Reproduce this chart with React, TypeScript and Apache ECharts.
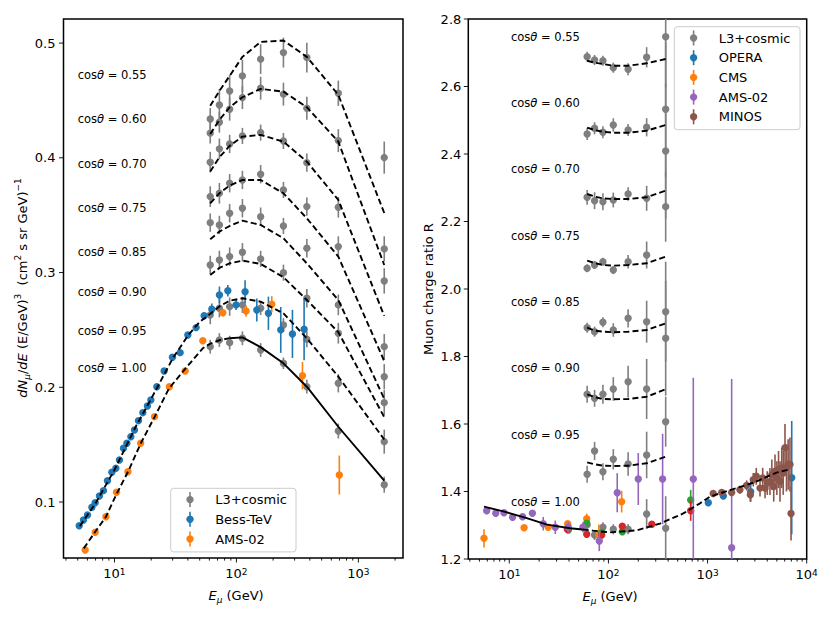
import React, { useEffect, useRef } from 'react';
import * as echarts from 'echarts';

const FONT = 'DejaVu Sans';
const GRAY = '#7f7f7f', BLUE = '#1f77b4', ORANGE = '#ff7f0e', GREEN = '#2ca02c', RED = '#d62728', PURPLE = '#9467bd', BROWN = '#8c564b';

// ---------- Left panel: flux ----------
const L3_E = [61, 72.5, 88, 112, 158, 243, 378, 685, 1630];
const COS_LABELS = ['0.55', '0.60', '0.70', '0.75', '0.85', '0.90', '0.95', '1.00'];
const flux055 = [0.4339, 0.4461, 0.4583, 0.4714, 0.4860, 0.4917, 0.4874, 0.4563, 0.4002];
const flux060 = [0.4215, 0.4310, 0.4424, 0.4525, 0.4607, 0.4555, 0.4432, 0.4150, 0.3206];
const flux070 = [0.3962, 0.4078, 0.4121, 0.4191, 0.4220, 0.4147, 0.3958, 0.3569, 0.2927];
const flux075 = [0.3662, 0.3691, 0.3779, 0.3807, 0.3857, 0.3720, 0.3575, 0.3226, 0.2354];
const flux085 = [0.3435, 0.3415, 0.3517, 0.3561, 0.3487, 0.3406, 0.3212, 0.2718, 0.2092];
const flux090 = [0.3066, 0.3110, 0.3139, 0.3177, 0.3119, 0.2999, 0.2776, 0.2471, 0.1866];
const flux095 = [0.2630, 0.2689, 0.2703, 0.2718, 0.2689, 0.2543, 0.2418, 0.2035, 0.1526];
const flux100 = [0.2354, 0.2412, 0.2389, 0.2427, 0.2325, 0.2209, 0.2005, 0.1619, 0.1151];
const fluxErr055 = [0.0095, 0.014, 0.014, 0.014, 0.013, 0.013, 0.013, 0.011, 0.014];
const fluxErr060 = [0.009, 0.009, 0.010, 0.010, 0.010, 0.010, 0.010, 0.010, 0.011];
const fluxErr070 = [0.009, 0.009, 0.008, 0.007, 0.007, 0.007, 0.008, 0.009, 0.011];
const fluxErr075 = [0.009, 0.009, 0.008, 0.008, 0.008, 0.007, 0.008, 0.009, 0.011];
const fluxErr085 = [0.008, 0.008, 0.008, 0.008, 0.008, 0.007, 0.008, 0.009, 0.011];
const fluxErr090 = [0.008, 0.008, 0.008, 0.008, 0.007, 0.007, 0.008, 0.009, 0.011];
const fluxErr095 = [0.008, 0.008, 0.008, 0.007, 0.006, 0.006, 0.007, 0.008, 0.0105];
const fluxErr100 = [0.006, 0.006, 0.006, 0.006, 0.006, 0.005, 0.006, 0.0065, 0.007];

// model curves (sampled at the L3 energies)
const model055 = [0.4453, 0.4583, 0.4714, 0.4880, 0.5010, 0.5022, 0.4880, 0.4549, 0.3519];
const model060 = [0.4208, 0.4330, 0.4441, 0.4528, 0.4601, 0.4577, 0.4441, 0.4141, 0.3066];
const model070 = [0.3880, 0.4005, 0.4104, 0.4185, 0.4200, 0.4141, 0.3967, 0.3633, 0.2622];
const model075 = [0.3604, 0.3691, 0.3758, 0.3807, 0.3807, 0.3691, 0.3473, 0.3139, 0.2229];
const model085 = [0.3290, 0.3357, 0.3406, 0.3452, 0.3415, 0.3299, 0.3080, 0.2760, 0.1900];
const model090 = [0.2979, 0.3040, 0.3080, 0.3104, 0.3075, 0.2959, 0.2761, 0.2480, 0.1740];
const model095E = [5.2, 7, 10, 15, 20, 30, 40, 50, 61, 72.5, 88, 112, 158, 243, 378, 685, 1630];
const model095 = [0.079, 0.099, 0.128, 0.166, 0.190, 0.225, 0.245, 0.257, 0.264, 0.2705, 0.2755, 0.2776, 0.2746, 0.2645, 0.2427, 0.2093, 0.1545];
const model100LowE = [5.6, 7, 8.5, 10.4, 13, 16.4, 21.3, 28, 38, 53, 61, 72.5, 88];
const model100Low = [0.0596, 0.0745, 0.087, 0.107, 0.127, 0.151, 0.174, 0.199, 0.216, 0.234, 0.238, 0.241, 0.2428];
const model100HighE = [88, 112, 158, 243, 378, 685, 1630];
const model100High = [0.2428, 0.2435, 0.235, 0.2209, 0.2005, 0.1656, 0.1186];

const bessE = [5.14, 5.57, 6.01, 6.53, 6.95, 7.53, 8.12, 8.76, 9.52, 10.27, 10.99, 11.85, 12.64, 13.63, 14.59, 15.73, 17.09, 18.64, 19.88, 22.26, 25.55, 29.88, 34.56, 39.96, 46.74, 54.36, 62.85, 72.58, 85.04, 99.4, 117.8, 147, 183, 231, 288, 359];
const bessFlux = [0.0793, 0.0843, 0.0887, 0.0954, 0.0994, 0.1052, 0.1099, 0.1186, 0.1259, 0.1294, 0.1366, 0.1468, 0.1512, 0.1569, 0.1628, 0.1709, 0.1779, 0.1837, 0.1889, 0.2005, 0.2142, 0.2262, 0.2302, 0.2456, 0.2520, 0.2624, 0.2680, 0.2805, 0.2842, 0.2718, 0.2833, 0.2674, 0.2645, 0.2500, 0.2465, 0.2506];
const bessErr = [0.001, 0.001, 0.001, 0.001, 0.001, 0.001, 0.001, 0.001, 0.001, 0.001, 0.001, 0.001, 0.001, 0.001, 0.001, 0.001, 0.001, 0.001, 0.001, 0.0015, 0.0015, 0.002, 0.002, 0.002, 0.003, 0.003, 0.005, 0.0073, 0.005, 0.0044, 0.010, 0.010, 0.0145, 0.020, 0.021, 0.027];

const amsFluxE = [5.75, 6.95, 8.5, 10.4, 12.9, 16.4, 21.3, 28.2, 38.0, 53.0, 77.4, 120, 195, 348, 698];
const amsFlux = [0.0582, 0.0736, 0.0872, 0.1085, 0.1264, 0.1512, 0.1744, 0.2005, 0.2142, 0.2406, 0.2650, 0.2665, 0.2724, 0.2101, 0.1235];
const amsFluxErr = [0.001, 0.001, 0.001, 0.001, 0.001, 0.001, 0.001, 0.001, 0.001, 0.002, 0.003, 0.005, 0.007, 0.012, 0.017];

// ---------- Right panel: charge ratio ----------
const RATIO_E = [61, 72.5, 88, 112, 158, 243, 378];
const ratio055 = [2.6883, 2.6785, 2.6764, 2.6557, 2.6510, 2.6865, 2.7476];
const ratio060 = [2.4593, 2.4761, 2.4643, 2.4859, 2.4711, 2.4791, 2.5324];
const ratio070 = [2.2717, 2.2616, 2.2587, 2.2637, 2.2815, 2.2687, 2.4090];
const ratio075 = [2.0613, 2.0711, 2.0809, 2.0563, 2.0809, 2.1007, 2.2440];
const ratio085 = [1.8853, 1.8735, 1.9013, 1.8785, 1.9132, 1.9031, 1.9327];
const ratio090 = [1.6880, 1.6761, 1.6880, 1.7037, 1.7253, 1.7037, 1.8539];
const ratio095 = [1.4510, 1.5200, 1.4587, 1.4954, 1.4815, 1.5081, 1.6068];
const ratio100 = [1.3010, 1.2711, 1.2939, 1.2880, 1.2880, 1.3333, 1.2910];
const ratioErr055 = [0.015, 0.015, 0.015, 0.015, 0.018, 0.03, 0.15];
const ratioErr060 = [0.018, 0.018, 0.018, 0.02, 0.018, 0.027, 0.2];
const ratioErr070 = [0.022, 0.025, 0.025, 0.022, 0.02, 0.037, 0.2];
const ratioErr075 = [0.012, 0.012, 0.012, 0.012, 0.02, 0.04, 0.104];
const ratioErr085 = [0.015, 0.015, 0.015, 0.02, 0.027, 0.062, 0.148];
const ratioErr090 = [0.025, 0.025, 0.028, 0.035, 0.047, 0.089, 0.17];
const ratioErr095 = [0.025, 0.027, 0.025, 0.03, 0.035, 0.069, 0.074];
const ratioErr100 = [0.012, 0.015, 0.015, 0.015, 0.015, 0.044, 0.095];

const rmodel055 = [2.6764, 2.6706, 2.6667, 2.6617, 2.6617, 2.6687, 2.6815];
const rmodel060 = [2.478, 2.471, 2.466, 2.463, 2.463, 2.469, 2.486];
const rmodel070 = [2.2815, 2.274, 2.2687, 2.2667, 2.2667, 2.2717, 2.2913];
const rmodel075 = [2.0839, 2.077, 2.0711, 2.069, 2.0711, 2.0761, 2.0957];
const rmodel085 = [1.8853, 1.877, 1.8735, 1.8717, 1.8735, 1.8785, 1.8984];
const rmodel090 = [1.688, 1.680, 1.674, 1.6732, 1.674, 1.6809, 1.7028];
const rmodel095 = [1.4865, 1.4806, 1.4765, 1.4756, 1.4765, 1.4836, 1.5031];
const rmodel100LowE = [5.56, 8.7, 15, 24, 41, 55];
const rmodel100Low = [1.355, 1.341, 1.321, 1.302, 1.291, 1.2875];
const rmodel100HighE = [55, 70, 104, 193, 331, 569, 839, 1059, 1684, 2893, 4977, 6776];
const rmodel100High = [1.2875, 1.284, 1.279, 1.285, 1.305, 1.335, 1.365, 1.385, 1.404, 1.426, 1.456, 1.466];

const operaE = [1017, 1442, 2723, 7063];
const operaR = [1.3668, 1.3867, 1.3994, 1.4409];
const operaErr = [0.008, 0.008, 0.03, 0.168];

const cmsE = [5.56, 14.1, 24.7, 38.8, 60.4, 80, 136];
const cmsR = [1.2613, 1.2927, 1.2939, 1.3046, 1.3194, 1.272, 1.3698];
const cmsErr = [0.027, 0.008, 0.008, 0.01, 0.015, 0.03, 0.032];

const amsRatioE = [5.92, 7.3, 8.84, 10.8, 13.6, 17.1, 22.0, 29.1, 39.4, 55.3, 80.9, 122.7, 200, 352, 718, 1750];
const amsRatio = [1.3431, 1.3354, 1.3372, 1.3236, 1.3253, 1.3354, 1.3046, 1.2939, 1.2939, 1.2939, 1.2533, 1.3964, 1.437, 1.437, 1.437, 1.2335];
const amsRatioErr = [0.005, 0.005, 0.005, 0.006, 0.006, 0.008, 0.02, 0.02, 0.015, 0.015, 0.03, 0.058, 0.077, 0.134, 0.3, 0.5];

const greenE = [39.4, 60.4, 85.5, 138, 676];
const greenR = [1.2859, 1.3058, 1.2785, 1.2809, 1.3748];
const greenErr = [0.008, 0.01, 0.01, 0.008, 0.03];

const redE = [38.5, 60.4, 85.5, 138, 274, 676];
const redR = [1.288, 1.2732, 1.2711, 1.2969, 1.3028, 1.3431];
const redErr = [0.008, 0.01, 0.01, 0.008, 0.008, 0.03];

const minosE = [1140, 1390, 1750, 2120, 2480, 2700, 2890, 3100, 3380, 3600, 3800, 4000, 4260, 4450, 4650, 4790, 5000, 5200, 5380, 5600, 5800, 6040, 6250, 6500, 6780, 6950];
const minosR = [1.394, 1.397, 1.397, 1.405, 1.418, 1.390, 1.435, 1.445, 1.410, 1.440, 1.410, 1.425, 1.430, 1.450, 1.415, 1.460, 1.440, 1.465, 1.430, 1.470, 1.455, 1.530, 1.470, 1.480, 1.480, 1.335];
const minosErr = [0.008, 0.01, 0.01, 0.012, 0.015, 0.02, 0.02, 0.025, 0.025, 0.03, 0.03, 0.035, 0.04, 0.045, 0.045, 0.05, 0.05, 0.055, 0.06, 0.06, 0.065, 0.07, 0.07, 0.075, 0.08, 0.08];

// ticks
const leftXMajor = [10, 100, 1000];
const leftXMinor = [4, 5, 6, 7, 8, 9, 20, 30, 40, 50, 60, 70, 80, 90, 200, 300, 400, 500, 600, 700, 800, 900, 2000];
const rightXMajor = [10, 100, 1000, 10000];
const rightXMinor = [4, 5, 6, 7, 8, 9, 20, 30, 40, 50, 60, 70, 80, 90, 200, 300, 400, 500, 600, 700, 800, 900, 2000, 3000, 4000, 5000, 6000, 7000, 8000, 9000];
const leftYMajor = [0.1, 0.2, 0.3, 0.4, 0.5];
const rightYMajor = [1.2, 1.4, 1.6, 1.8, 2.0, 2.2, 2.4, 2.6, 2.8];

const DASH = [6, 3.2];

function errSeries(name: string, gi: number, E: number[], V: number[], Err: number[], color: string, z: number) {
  return {
    type: 'custom', name, xAxisIndex: gi, yAxisIndex: gi, z, silent: true,
    encode: { x: 0, y: 1 },
    data: E.map((e, i) => [e, V[i], Err[i]]),
    renderItem: (params: any, api: any) => {
      const x = api.value(0), y = api.value(1), e = api.value(2);
      const cs = params.coordSys;
      const p = api.coord([x, y]);
      let top = api.coord([x, y + e])[1];
      let bot = api.coord([x, y - e])[1];
      top = Math.max(top, cs.y);
      bot = Math.min(bot, cs.y + cs.height);
      const children: any[] = [];
      if (bot > top) children.push({ type: 'line', shape: { x1: p[0], y1: top, x2: p[0], y2: bot }, style: { stroke: color, lineWidth: 1.6 } });
      if (p[1] >= cs.y - 1 && p[1] <= cs.y + cs.height + 1) children.push({ type: 'circle', shape: { cx: p[0], cy: p[1], r: 3.7 }, style: { fill: color } });
      return { type: 'group', children };
    },
  };
}

function lineSeries(gi: number, E: number[], V: number[], dashed: boolean) {
  return {
    type: 'line', xAxisIndex: gi, yAxisIndex: gi, z: 5, silent: true,
    showSymbol: false, symbol: 'none',
    data: E.map((e, i) => [e, V[i]]),
    lineStyle: { color: '#000', width: 1.9, type: dashed ? DASH : 'solid' },
  };
}

function tickSeries(gi: number, axis: 'x' | 'y', major: number[], minor: number[], other: number) {
  const data = [...major.map((v) => [v, 1]), ...minor.map((v) => [v, 0])];
  return {
    type: 'custom', xAxisIndex: gi, yAxisIndex: gi, z: 10, silent: true,
    data,
    renderItem: (params: any, api: any) => {
      const v = api.value(0), isMajor = api.value(1) === 1;
      const cs = params.coordSys;
      const len = isMajor ? 4.5 : 2.6;
      if (axis === 'x') {
        const p = api.coord([v, other]);
        const y0 = cs.y + cs.height;
        return { type: 'line', shape: { x1: p[0], y1: y0, x2: p[0], y2: y0 + len }, style: { stroke: '#000', lineWidth: 0.9 } };
      }
      const p = api.coord([other, v]);
      return { type: 'line', shape: { x1: cs.x - len, y1: p[1], x2: cs.x, y2: p[1] }, style: { stroke: '#000', lineWidth: 0.9 } };
    },
  };
}

const logFormatter = (v: number) => {
  const l = Math.log10(v);
  const r = Math.round(l);
  return Math.abs(l - r) < 1e-4 ? `10{sup|${r}}` : '';
};

function legendGraphic(x: number, y: number, w: number, entries: { name: string; color: string }[]) {
  const rowH = 19.7;
  const h = entries.length * rowH + 4.5;
  const children: any[] = [
    { type: 'rect', shape: { x, y, width: w, height: h, r: 3 }, style: { fill: 'rgba(255,255,255,0.8)', stroke: '#cccccc', lineWidth: 1 } },
  ];
  entries.forEach((en, i) => {
    const cy = y + 11.3 + i * rowH;
    const mx = x + 19.3;
    children.push({ type: 'line', shape: { x1: mx, y1: cy - 7.5, x2: mx, y2: cy + 7.5 }, style: { stroke: en.color, lineWidth: 1.6 } });
    children.push({ type: 'circle', shape: { cx: mx, cy, r: 3.7 }, style: { fill: en.color } });
    children.push({ type: 'text', x: x + 44.5, y: cy, style: { text: en.name, fontFamily: FONT, fontSize: 13, fill: '#000', align: 'left', verticalAlign: 'middle' } });
  });
  return { type: 'group', children };
}

function cosText(x: number, y: number, label: string) {
  return {
    type: 'text', x, y,
    style: {
      text: `{n|cos}{it|θ}{n| = ${label}}`, align: 'left', verticalAlign: 'middle', fill: '#000',
      rich: { n: { fontFamily: FONT, fontSize: 11.5, fill: '#000' }, it: { fontFamily: FONT, fontSize: 11.5, fontStyle: 'italic', fill: '#000' } },
    },
  };
}

export default function App() {
  const ref = useRef<HTMLDivElement>(null);
  useEffect(() => {
    if (!ref.current) return;
    const chart = echarts.init(ref.current, null, { renderer: 'svg' });
    const axisLabelX = {
      formatter: logFormatter, color: '#000', fontFamily: FONT, fontSize: 13, margin: 9,
      rich: { sup: { fontFamily: FONT, fontSize: 9, verticalAlign: 'top', lineHeight: 9, fill: '#000' } },
    };
    const leftFluxSeries = [flux055, flux060, flux070, flux075, flux085, flux090, flux095, flux100];
    const leftFluxErr = [fluxErr055, fluxErr060, fluxErr070, fluxErr075, fluxErr085, fluxErr090, fluxErr095, fluxErr100];
    const leftModels = [model055, model060, model070, model075, model085, model090];
    const rightRatio = [ratio055, ratio060, ratio070, ratio075, ratio085, ratio090, ratio095, ratio100];
    const rightErr = [ratioErr055, ratioErr060, ratioErr070, ratioErr075, ratioErr085, ratioErr090, ratioErr095, ratioErr100];
    const rightModels = [rmodel055, rmodel060, rmodel070, rmodel075, rmodel085, rmodel090, rmodel095];

    const series: any[] = [];
    leftFluxSeries.forEach((s, i) => series.push(errSeries('L3+cosmic', 0, L3_E, s, leftFluxErr[i], GRAY, 2)));
    series.push(errSeries('Bess-TeV', 0, bessE, bessFlux, bessErr, BLUE, 3));
    series.push(errSeries('AMS-02', 0, amsFluxE, amsFlux, amsFluxErr, ORANGE, 3));
    leftModels.forEach((m) => series.push(lineSeries(0, L3_E, m, true)));
    series.push(lineSeries(0, model095E, model095, true));
    series.push(lineSeries(0, model100LowE, model100Low, true));
    series.push(lineSeries(0, model100HighE, model100High, false));

    rightRatio.forEach((s, i) => series.push(errSeries('L3+cosmic', 1, RATIO_E, s, rightErr[i], GRAY, 2)));
    series.push(errSeries('OPERA', 1, operaE, operaR, operaErr, BLUE, 3));
    series.push(errSeries('CMS', 1, cmsE, cmsR, cmsErr, ORANGE, 3));
    series.push(errSeries('green', 1, greenE, greenR, greenErr, GREEN, 3));
    series.push(errSeries('red', 1, redE, redR, redErr, RED, 3));
    series.push(errSeries('AMS-02', 1, amsRatioE, amsRatio, amsRatioErr, PURPLE, 3));
    series.push(errSeries('MINOS', 1, minosE, minosR, minosErr, BROWN, 3));
    rightModels.forEach((m) => series.push(lineSeries(1, RATIO_E, m, true)));
    series.push(lineSeries(1, rmodel100LowE, rmodel100Low, false));
    series.push(lineSeries(1, rmodel100HighE, rmodel100High, true));

    series.push(tickSeries(0, 'x', leftXMajor, leftXMinor, 0.3));
    series.push(tickSeries(0, 'y', leftYMajor, [], 10));
    series.push(tickSeries(1, 'x', rightXMajor, rightXMinor, 2.0));
    series.push(tickSeries(1, 'y', rightYMajor, [], 10));

    const leftCosY = [75, 119.3, 164.3, 208.3, 251.7, 292.3, 330.7, 368.3];
    const rightCosY = [37.3, 103.3, 169.3, 235.7, 301.7, 368.3, 435, 501.7];
    const graphic: any[] = [];
    COS_LABELS.forEach((c, i) => graphic.push(cosText(77.7, leftCosY[i], c)));
    COS_LABELS.forEach((c, i) => graphic.push(cosText(511, rightCosY[i], c)));
    graphic.push(legendGraphic(170.7, 488.3, 125.3, [
      { name: 'L3+cosmic', color: GRAY }, { name: 'Bess-TeV', color: BLUE }, { name: 'AMS-02', color: ORANGE },
    ]));
    graphic.push(legendGraphic(674.3, 26.7, 125.7, [
      { name: 'L3+cosmic', color: GRAY }, { name: 'OPERA', color: BLUE }, { name: 'CMS', color: ORANGE },
      { name: 'AMS-02', color: PURPLE }, { name: 'MINOS', color: BROWN },
    ]));
    const richBase = {
      n: { fontFamily: FONT, fontSize: 13, fill: '#000', lineHeight: 18 },
      it: { fontFamily: FONT, fontSize: 13, fontStyle: 'italic', fill: '#000', lineHeight: 18 },
      sub: { fontFamily: FONT, fontSize: 9, fontStyle: 'italic', fill: '#000', verticalAlign: 'bottom', lineHeight: 12 },
      sup: { fontFamily: FONT, fontSize: 9, fill: '#000', verticalAlign: 'top', lineHeight: 9 },
    };
    graphic.push({
      type: 'text', x: 236, y: 595,
      style: { text: '{it|E}{sub|μ}{n| (GeV)}', align: 'center', verticalAlign: 'middle', rich: richBase },
    });
    graphic.push({
      type: 'text', x: 610, y: 596,
      style: { text: '{it|E}{sub|μ}{n| (GeV)}', align: 'center', verticalAlign: 'middle', rich: richBase },
    });
    graphic.push({
      type: 'text', x: 22, y: 288, rotation: Math.PI / 2,
      style: { text: '{it|dN}{sub|μ}{n|/}{it|dE}{n| (E/GeV)}{sup|3}{n|  (cm}{sup|2}{n| s sr GeV)}{sup|−1}', align: 'center', verticalAlign: 'middle', rich: richBase },
    });
    graphic.push({
      type: 'text', x: 428, y: 289, rotation: Math.PI / 2,
      style: { text: 'Muon charge ratio R', align: 'center', verticalAlign: 'middle', fontFamily: FONT, fontSize: 13, fill: '#000' },
    });

    const option: any = {
      animation: false,
      backgroundColor: '#fff',
      textStyle: { fontFamily: FONT },
      grid: [
        { left: 63.5, top: 19, width: 339.5, height: 539, show: true, borderColor: '#000', borderWidth: 1.5, backgroundColor: 'transparent' },
        { left: 468.3, top: 19, width: 338.4, height: 540, show: true, borderColor: '#000', borderWidth: 1.5, backgroundColor: 'transparent' },
      ],
      xAxis: [
        { type: 'log', logBase: 10, gridIndex: 0, min: 3.82, max: 2323, axisLine: { show: false }, axisTick: { show: false }, splitLine: { show: false }, axisLabel: axisLabelX },
        { type: 'log', logBase: 10, gridIndex: 1, min: 3.86, max: 10000, axisLine: { show: false }, axisTick: { show: false }, splitLine: { show: false }, axisLabel: axisLabelX },
      ],
      yAxis: [
        {
          type: 'value', gridIndex: 0, min: 0.0512, max: 0.521, splitNumber: 5,
          axisLine: { show: false }, axisTick: { show: false }, splitLine: { show: false },
          axisLabel: {
            color: '#000', fontFamily: FONT, fontSize: 13, margin: 8,
            formatter: (v: number) => { const r = Math.round(v * 10); return Math.abs(v * 10 - r) < 1e-6 ? (r / 10).toFixed(1) : ''; },
          },
        },
        {
          type: 'value', gridIndex: 1, min: 1.2, max: 2.8, interval: 0.2,
          axisLine: { show: false }, axisTick: { show: false }, splitLine: { show: false },
          axisLabel: { color: '#000', fontFamily: FONT, fontSize: 13, margin: 7, formatter: (v: number) => v.toFixed(1) },
        },
      ],
      series,
      graphic,
    };
    chart.setOption(option);
    return () => chart.dispose();
  }, []);
  return <div ref={ref} style={{ position: 'fixed', left: 0, top: 0, width: 830, height: 623, background: '#fff' }} />;
}
